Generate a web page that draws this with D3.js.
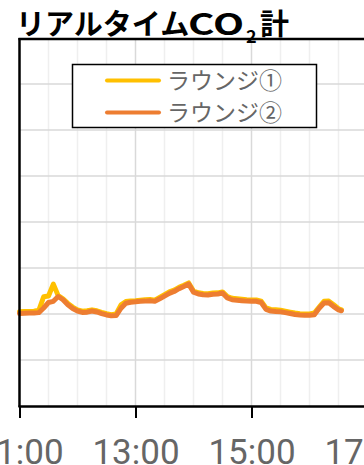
<!DOCTYPE html>
<html>
<head>
<meta charset="utf-8">
<script src="https://cdn.jsdelivr.net/npm/d3@7"></script>
<style>
  html, body { margin: 0; padding: 0; background: #fff; overflow: hidden; }
  svg { display: block; }
</style>
</head>
<body>
<svg id="chart" width="364" height="465"></svg>
<script>
// Sampling times (HH:MM)
const times = [
  "11:00","11:05","11:10","11:15","11:20","11:25","11:30","11:35","11:40","11:45","11:50","11:55",
  "12:00","12:05","12:10","12:15","12:20","12:25","12:30","12:35","12:40","12:45","12:50","12:55",
  "13:00","13:05","13:10","13:15","13:20","13:25","13:30","13:35","13:40","13:45","13:50","13:55",
  "14:00","14:05","14:10","14:15","14:20","14:25","14:30","14:35","14:40","14:45","14:50","14:55",
  "15:00","15:05","15:10","15:15","15:20","15:25","15:30","15:35","15:40","15:45","15:50","15:55",
  "16:00","16:05","16:10","16:15","16:20","16:25","16:30","16:33"
];

// CO2 (ppm) – lounge 1
const lounge1 = [
  410,411,411,412,416,475,478,530,480,466,446,430,
  418,412,414,418,414,407,401,397,400,440,454,457,
  458,460,462,463,460,472,484,496,504,516,525,535,
  500,492,489,488,491,492,496,476,468,466,464,462,
  461,461,456,426,420,418,416,412,408,404,401,400,
  400,404,430,455,456,440,423,418
];

// CO2 (ppm) – lounge 2
const lounge2 = [
  402,403,404,404,406,426,450,455,476,462,440,424,
  413,407,408,413,409,402,396,392,393,425,447,451,
  453,455,456,458,455,466,478,490,498,510,520,530,
  495,487,484,483,486,487,491,470,462,460,458,456,
  455,455,450,420,413,411,410,406,402,398,396,395,
  395,397,425,448,449,432,418,414
];

const seriesNames = ["ラウンジ①", "ラウンジ②"];
const seriesColors = ["#FFC000", "#ED7D31"];

const yTicks = [0, 200, 400, 600, 800, 1000, 1200, 1400, 1600];
const xMajorTicks = ["11:00", "13:00", "15:00", "17:00"];
const xDomain = ["11:00", "18:00"];

const parse = d3.timeParse("%H:%M");
const fmt = d3.timeFormat("%H:%M");

const svg = d3.select("#chart");

const plot = { left: 19.5, top: 38, bottom: 406, hourPx: 58 };

const x = d3.scaleTime()
  .domain(xDomain.map(parse))
  .range([plot.left, plot.left + plot.hourPx * 7]);

const y = d3.scaleLinear()
  .domain([0, 1600])
  .range([plot.bottom, plot.top]);

// Minor vertical grid every 30 minutes
const minorTimes = d3.timeMinute.every(30).range(parse("11:30"), parse("18:00"));
svg.append("g").selectAll("line")
  .data(minorTimes.filter(t => t.getMinutes() !== 0 || t.getHours() % 2 === 0))
  .join("line")
  .attr("x1", d => x(d)).attr("x2", d => x(d))
  .attr("y1", plot.top).attr("y2", plot.bottom)
  .attr("stroke", "#efefef").attr("stroke-width", 1.5);

// Major vertical grid every 2 hours
svg.append("g").selectAll("line")
  .data(xMajorTicks.slice(1).map(parse))
  .join("line")
  .attr("x1", d => x(d)).attr("x2", d => x(d))
  .attr("y1", plot.top).attr("y2", plot.bottom)
  .attr("stroke", "#d9d9d9").attr("stroke-width", 1.5);

// Horizontal grid
svg.append("g").selectAll("line")
  .data(yTicks.slice(1, -1))
  .join("line")
  .attr("x1", plot.left).attr("x2", 364)
  .attr("y1", d => y(d)).attr("y2", d => y(d))
  .attr("stroke", "#d9d9d9").attr("stroke-width", 1.5);

// Top border
svg.append("line")
  .attr("x1", plot.left - 1).attr("x2", 364)
  .attr("y1", y(1600) + 1).attr("y2", y(1600) + 1)
  .attr("stroke", "#000").attr("stroke-width", 2.5);

// Series lines
const line = d3.line()
  .x((d, i) => x(parse(times[i])))
  .y(d => y(d))
  .curve(d3.curveLinear);

[lounge1, lounge2].forEach((vals, k) => {
  svg.append("path")
    .datum(vals)
    .attr("d", line)
    .attr("fill", "none")
    .attr("stroke", seriesColors[k])
    .attr("stroke-width", 5)
    .attr("stroke-linejoin", "round")
    .attr("stroke-linecap", "round");
});

// Axes
const xAxis = d3.axisBottom(x)
  .tickValues(xMajorTicks.map(parse))
  .tickFormat(fmt)
  .tickSize(12)
  .tickPadding(21);

const gx = svg.append("g")
  .attr("transform", `translate(0,${plot.bottom})`)
  .call(xAxis);
gx.select(".domain").attr("stroke", "#000").attr("stroke-width", 2.5)
  .attr("d", `M${plot.left - 1},0.5H364`);
gx.selectAll(".tick line").attr("stroke", "#000").attr("stroke-width", 2);
gx.selectAll(".tick text")
  .attr("fill", "#666")
  .attr("font-family", "Roboto, sans-serif")
  .attr("font-size", 35)
  .attr("dy", "0.71em");

svg.append("line")
  .attr("x1", plot.left).attr("x2", plot.left)
  .attr("y1", plot.top).attr("y2", plot.bottom + 1)
  .attr("stroke", "#000").attr("stroke-width", 2.5);

// Legend
const legend = svg.append("g");
legend.append("rect")
  .attr("x", 72.5).attr("y", 64.5)
  .attr("width", 244).attr("height", 63)
  .attr("fill", "#fff").attr("stroke", "#000").attr("stroke-width", 1.5);

seriesNames.forEach((name, k) => {
  const ly = 80.5 + k * 32;
  legend.append("line")
    .attr("x1", 107).attr("x2", 159)
    .attr("y1", ly).attr("y2", ly)
    .attr("stroke", seriesColors[k]).attr("stroke-width", 4)
    .attr("stroke-linecap", "round");
  legend.append("text")
    .attr("x", 167).attr("y", ly + 8)
    .attr("fill", "#666")
    .attr("font-family", "'Noto Sans CJK JP', sans-serif")
    .attr("font-size", 23)
    .text(name);
});

// Title
const title = svg.append("g")
  .attr("font-family", "'Noto Sans CJK JP', sans-serif")
  .attr("font-weight", "bold")
  .attr("fill", "#000");
title.append("text")
  .attr("x", 16).attr("y", 35)
  .attr("font-size", 29)
  .text("リアルタイム");
title.append("text")
  .attr("x", 188).attr("y", 35)
  .attr("font-size", 29)
  .attr("textLength", 56).attr("lengthAdjust", "spacingAndGlyphs")
  .text("CO");
title.append("text")
  .attr("x", 246).attr("y", 43)
  .attr("font-size", 18)
  .text("2");
title.append("text")
  .attr("x", 260).attr("y", 35)
  .attr("font-size", 29)
  .text("計");
</script>
</body>
</html>
